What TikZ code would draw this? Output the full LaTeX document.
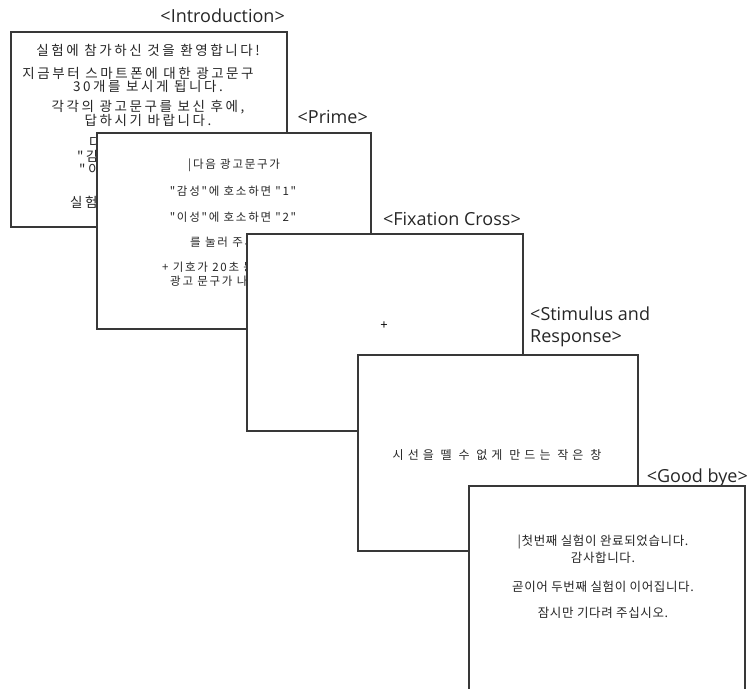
\documentclass[tikz,border=0pt]{standalone}
\usepackage{fontspec}
\setmainfont{Open Sans}
\newfontfamily\krA[LetterSpace=19]{Noto Sans CJK KR}
\newfontfamily\krB[LetterSpace=15]{Noto Sans CJK KR}
\newfontfamily\krC[LetterSpace=34]{Noto Sans CJK KR}
\newfontfamily\krD[LetterSpace=5]{Noto Sans CJK KR}
\tikzset{
  screen/.style={draw=black!78, line width=1.8pt, fill=white, anchor=north west, inner sep=0pt},
  lbl/.style={font=\fontsize{18}{22}\selectfont, text=black!85, inner sep=0pt},
  ka/.style={inner sep=0pt, text=black!85, font=\krA\fontsize{13.5}{15}\selectfont},
  kb/.style={inner sep=0pt, text=black!85, font=\krB\fontsize{11.5}{13}\selectfont},
  kc/.style={inner sep=0pt, text=black!85, font=\krC\fontsize{12}{14}\selectfont},
  kd/.style={inner sep=0pt, text=black!85, font=\krD\fontsize{12.5}{14}\selectfont}
}
\begin{document}
\begin{tikzpicture}[x=1pt,y=-1pt]
\useasboundingbox (0,0) rectangle (749,688);
\clip (0,0) rectangle (749,688);
% Introduction
\node[lbl, anchor=east] (lintro) at (285,16) {<Introduction>};
\node[screen, minimum width=276pt, minimum height=195pt] (intro) at (10,31) {};
\node[ka] (i1) at (148,50) {실험에 참가하신 것을 환영합니다!};
\node[ka] (i2) at (138,73) {지금부터 스마트폰에 대한 광고문구};
\node[ka] (i3) at (148,86) {30개를 보시게 됩니다.};
\node[ka] (i4) at (148,107) {각각의 광고문구를 보신 후에,};
\node[ka] (i5) at (148,120) {답하시기 바랍니다.};
\node[ka, anchor=west, align=left, font=\krA\fontsize{13.5}{11.5}\selectfont] (i678) at (77,156) {\hspace*{12pt}다음\\"감성"\\\hspace*{2pt}"이성"};
\node[ka, anchor=west] (i9) at (70,202) {실험을};
% Prime
\node[lbl, anchor=east] (lprime) at (368,117) {<Prime>};
\node[screen, minimum width=274pt, minimum height=196pt] (prime) at (96,132) {};
\node[kb, anchor=west] (p1) at (188,165) {|다음 광고문구가};
\node[kb] (p2) at (233,191) {"감성"에 호소하면 "1"};
\node[kb] (p3) at (233,217) {"이성"에 호소하면 "2"};
\node[kb, anchor=west] (p4) at (190,242) {를 눌러 주세요.};
\node[kb, anchor=west] (p5) at (162,267) {+ 기호가 20초 동안 나타난 후};
\node[kb, anchor=west] (p6) at (170,281) {광고 문구가 나타납니다.};
% Fixation cross
\node[lbl, anchor=east] (lfix) at (521,219) {<Fixation Cross>};
\node[screen, minimum width=276pt, minimum height=197pt] (fix) at (246,233) {};
\node[inner sep=0pt, font=\fontsize{13}{14}\selectfont] (cross) at (384,326) {+};
% Stimulus and response
\node[lbl, anchor=north west, align=left] (lstim) at (530,307) {<Stimulus and\\Response>};
\node[screen, minimum width=280pt, minimum height=196pt] (stim) at (357,354) {};
\node[kc] (s1) at (497,455) {시선을 뗄 수 없게 만드는 작은 창};
% Good bye
\node[lbl, anchor=east] (lbye) at (748,478) {<Good bye>};
\node[screen, minimum width=276pt, minimum height=210pt] (bye) at (468,485) {};
\node[kd] (b1) at (603,542) {|첫번째 실험이 완료되었습니다.};
\node[kd] (b2) at (603,558) {감사합니다.};
\node[kd] (b3) at (603,587) {곧이어 두번째 실험이 이어집니다.};
\node[kd] (b4) at (603,613) {잠시만 기다려 주십시오.};
\end{tikzpicture}
\end{document}
